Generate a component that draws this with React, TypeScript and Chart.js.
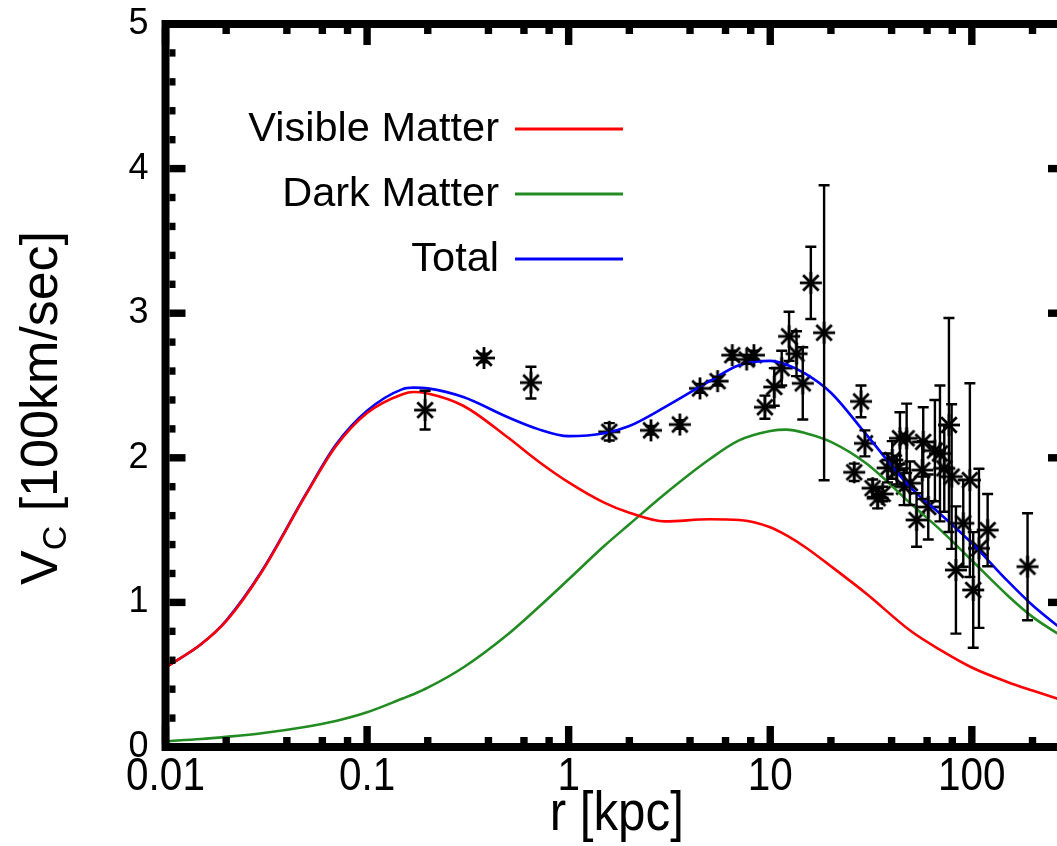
import React, { useEffect, useRef } from "react";
import { Chart, registerables } from "chart.js";

Chart.register(...registerables);

// ---------- data ----------
const curveR = [0.01, 0.015, 0.02, 0.03, 0.05, 0.07, 0.1, 0.15, 0.17, 0.2, 0.3, 0.5, 0.7, 1, 1.5, 2, 3, 5, 7, 10, 12, 15, 20, 30, 50, 70, 100, 150, 200, 300];
const visibleV = [0.55, 0.71, 0.87, 1.21, 1.75, 2.08, 2.31, 2.44, 2.455, 2.445, 2.36, 2.14, 1.98, 1.83, 1.69, 1.62, 1.56, 1.575, 1.57, 1.52, 1.465, 1.38, 1.25, 1.06, 0.8, 0.67, 0.55, 0.45, 0.39, 0.31];
const darkV = [0.04, 0.055, 0.07, 0.095, 0.14, 0.18, 0.24, 0.335, 0.365, 0.41, 0.55, 0.78, 0.96, 1.16, 1.39, 1.54, 1.75, 1.99, 2.12, 2.185, 2.195, 2.17, 2.11, 1.96, 1.68, 1.5, 1.29, 1.05, 0.9, 0.74];
const totalV = [0.55, 0.71, 0.875, 1.215, 1.755, 2.09, 2.325, 2.475, 2.485, 2.48, 2.42, 2.28, 2.2, 2.15, 2.17, 2.22, 2.35, 2.53, 2.64, 2.67, 2.645, 2.58, 2.45, 2.16, 1.79, 1.61, 1.41, 1.15, 0.98, 0.78];

const obsR = [0.194, 0.38, 0.65, 1.59, 2.56, 3.56, 4.48, 5.48, 6.48, 7.64, 8.3, 9.41, 10.47, 11.4, 12.4, 13.5, 14.5, 15.9, 18.5, 26.1, 28.2, 29.5, 32.2, 34.1, 36.1, 38.2, 40.3, 42.4, 44, 46.1, 47.5, 49.3, 53.2, 56.8, 57.4, 60.8, 65.6, 69.5, 73, 77, 79.4, 83.4, 90.7, 97.8, 101.6, 108.5, 119.8, 189];
const obsV = [2.33, 2.69, 2.52, 2.18, 2.19, 2.23, 2.48, 2.53, 2.71, 2.68, 2.71, 2.35, 2.49, 2.62, 2.84, 2.72, 2.515, 3.21, 2.865, 1.9, 2.39, 2.1, 1.79, 1.72, 1.75, 1.93, 1.985, 1.915, 2.135, 1.8, 2.135, 1.824, 1.57, 1.915, 2.11, 1.66, 2.05, 2.03, 1.927, 2.227, 1.87, 1.224, 1.547, 1.846, 1.086, 1.374, 1.5, 1.247];
const obsErr = [0.134, 0.03, 0.11, 0.06, 0.03, 0.03, 0.03, 0.03, 0.03, 0.03, 0.03, 0.08, 0.13, 0.12, 0.17, 0.155, 0.25, 0.25, 1.02, 0.06, 0.11, 0.09, 0.06, 0.07, 0.05, 0.1, 0.13, 0.1, 0.18, 0.127, 0.24, 0.15, 0.185, 0.2, 0.24, 0.225, 0.35, 0.47, 0.3, 0.74, 0.5, 0.44, 0.3, 0.67, 0.4, 0.55, 0.25, 0.37];

const seriesNames = ["Visible Matter", "Dark Matter", "Total"];
const seriesColors = ["#ff0000", "#228b22", "#0000ff"];

const xTickValues = [0.01, 0.1, 1, 10, 100];
const xTickLabels = ["0.01", "0.1", "1", "10", "100"];
const xMinorMultipliers = [2, 4, 6, 8];
const yTickValues = [0, 1, 2, 3, 4, 5];
const xTitle = "r [kpc]";
const yTitleMain = "V";
const yTitleSub = "C";
const yTitleRest = " [100km/sec]";

// ---------- layout ----------
const CW = 1100;
const CH = 846;
const AREA_LEFT = 165.5;
const AREA_RIGHT = 1068;
const AREA_TOP = 24;
const AREA_BOTTOM = 747;
const SANS = "'Liberation Sans', Arial, Helvetica, sans-serif";

function makeAsterisk(): HTMLCanvasElement {
  const s = 28;
  const c = document.createElement("canvas");
  c.width = s;
  c.height = s;
  const g = c.getContext("2d")!;
  g.strokeStyle = "#000";
  g.lineWidth = 2.8;
  const r = 11;
  const m = s / 2;
  const angles = [90, 0, 45, 135];
  for (const a of angles) {
    const rad = (a * Math.PI) / 180;
    g.beginPath();
    g.moveTo(m - r * Math.cos(rad), m - r * Math.sin(rad));
    g.lineTo(m + r * Math.cos(rad), m + r * Math.sin(rad));
    g.stroke();
  }
  return c;
}

function squeezedText(ctx: CanvasRenderingContext2D, text: string, x: number, y: number, k: number) {
  ctx.save();
  ctx.translate(x, y);
  ctx.scale(k, 1);
  ctx.fillText(text, 0, 0);
  ctx.restore();
}

const decorPlugin = {
  id: "decor",
  afterDatasetsDraw(chart: any) {
    const ctx = chart.ctx;
    const xs = chart.scales.x;
    const ys = chart.scales.y;
    ctx.save();
    ctx.strokeStyle = "#000";
    ctx.lineWidth = 2.4;
    const cap = 5.5;
    for (let i = 0; i < obsR.length; i++) {
      const px = xs.getPixelForValue(obsR[i]);
      const p1 = ys.getPixelForValue(obsV[i] + obsErr[i]);
      const p0 = ys.getPixelForValue(obsV[i] - obsErr[i]);
      ctx.beginPath();
      ctx.moveTo(px, p0);
      ctx.lineTo(px, p1);
      ctx.moveTo(px - cap, p0);
      ctx.lineTo(px + cap, p0);
      ctx.moveTo(px - cap, p1);
      ctx.lineTo(px + cap, p1);
      ctx.stroke();
    }
    ctx.restore();
  },
  afterDraw(chart: any) {
    const ctx = chart.ctx;
    const { left, right, top, bottom } = chart.chartArea;
    const xs = chart.scales.x;
    const ys = chart.scales.y;
    ctx.save();
    ctx.strokeStyle = "#000";
    ctx.lineWidth = 8;
    ctx.strokeRect(left, top, right - left, bottom - top);
    ctx.fillStyle = "#000";
    const tw = 7.4;
    const inner = 4;
    const xMajorLen = 17;
    const xMinorLen = 6;
    const drawX = (v: number, len: number) => {
      const px = xs.getPixelForValue(v);
      if (px < left - 1 || px > right + 1) return;
      ctx.fillRect(px - tw / 2, bottom - inner - len, tw, len);
      ctx.fillRect(px - tw / 2, top + inner, tw, len);
    };
    for (const v of xTickValues) {
      drawX(v, xMajorLen);
      for (const m of xMinorMultipliers) drawX(v * m, xMinorLen);
    }
    const yMajorLen = 16;
    const yMinorLen = 6;
    for (let k = 0; k <= 25; k++) {
      const v = k * 0.2;
      const py = ys.getPixelForValue(v);
      const len = k % 5 === 0 ? yMajorLen : yMinorLen;
      ctx.fillRect(left + inner, py - tw / 2, len, tw);
      ctx.fillRect(right - inner - len, py - tw / 2, len, tw);
    }

    // x tick labels (narrow)
    ctx.font = `46px ${SANS}`;
    ctx.textBaseline = "alphabetic";
    const kx = 0.88;
    for (let i = 0; i < xTickValues.length; i++) {
      const px = xs.getPixelForValue(xTickValues[i]);
      const w = ctx.measureText(xTickLabels[i]).width * kx;
      squeezedText(ctx, xTickLabels[i], px - w / 2, 790, kx);
    }
    // x title
    ctx.font = `56px ${SANS}`;
    const wt = ctx.measureText(xTitle).width * kx;
    squeezedText(ctx, xTitle, (left + right) / 2 - wt / 2, 830, kx);

    // y title with subscript
    const fMain = 52;
    const fSub = 34;
    ctx.translate(57, 408);
    ctx.rotate(-Math.PI / 2);
    ctx.font = `${fMain}px ${SANS}`;
    const wV = ctx.measureText(yTitleMain).width;
    const wRest = ctx.measureText(yTitleRest).width;
    ctx.font = `${fSub}px ${SANS}`;
    const wSub = ctx.measureText(yTitleSub).width;
    const total = wV + wSub + wRest;
    let x0 = -total / 2;
    ctx.font = `${fMain}px ${SANS}`;
    ctx.fillText(yTitleMain, x0, 0);
    x0 += wV;
    ctx.font = `${fSub}px ${SANS}`;
    ctx.fillText(yTitleSub, x0, 9);
    x0 += wSub;
    ctx.font = `${fMain}px ${SANS}`;
    ctx.fillText(yTitleRest, x0, 0);
    ctx.restore();

    // legend
    ctx.save();
    ctx.font = `41.5px ${SANS}`;
    ctx.textAlign = "right";
    ctx.textBaseline = "middle";
    const legTextRight = 499;
    const lineX0 = 515;
    const lineX1 = 623;
    const legY0 = 129;
    const legDy = 65;
    for (let i = 0; i < seriesNames.length; i++) {
      const y = legY0 + i * legDy;
      ctx.fillStyle = "#000";
      ctx.fillText(seriesNames[i], legTextRight, y + 1);
      ctx.strokeStyle = seriesColors[i];
      ctx.lineWidth = 3;
      ctx.beginPath();
      ctx.moveTo(lineX0, y);
      ctx.lineTo(lineX1, y);
      ctx.stroke();
    }
    ctx.restore();
  },
};

export default function App() {
  const ref = useRef<HTMLCanvasElement | null>(null);

  useEffect(() => {
    const canvas = ref.current;
    if (!canvas) return;
    const star = makeAsterisk();
    const curves = [visibleV, darkV, totalV].map((vals, i) => ({
      type: "line" as const,
      label: seriesNames[i],
      data: curveR.map((r, j) => ({ x: r, y: vals[j] })),
      borderColor: seriesColors[i],
      backgroundColor: seriesColors[i],
      borderWidth: 2.6,
      pointRadius: 0,
      cubicInterpolationMode: "monotone" as const,
      fill: false,
      clip: 4,
    }));
    const chart = new Chart(canvas, {
      type: "line",
      data: {
        datasets: [
          ...curves,
          {
            type: "scatter" as const,
            label: "Data",
            data: obsR.map((r, j) => ({ x: r, y: obsV[j] })),
            pointStyle: star as any,
            pointRadius: 11,
            showLine: false,
            borderColor: "#000",
            backgroundColor: "#000",
          } as any,
        ],
      },
      options: {
        responsive: false,
        animation: false,
        devicePixelRatio: 1,
        layout: { padding: { top: AREA_TOP, right: CW - AREA_RIGHT, left: 0, bottom: 0 } },
        plugins: { legend: { display: false }, tooltip: { enabled: false }, title: { display: false } },
        scales: {
          x: {
            type: "logarithmic",
            min: 0.01,
            max: 300,
            grid: { display: false, drawTicks: false },
            border: { display: false },
            afterBuildTicks: (s: any) => {
              s.ticks = xTickValues.map((v) => ({ value: v }));
            },
            afterFit: (s: any) => {
              s.height = CH - AREA_BOTTOM;
              s.paddingLeft = 0;
              s.paddingRight = 0;
            },
            ticks: { display: false, autoSkip: false, maxRotation: 0 },
          },
          y: {
            type: "linear",
            min: 0,
            max: 5,
            grid: { display: false, drawTicks: false },
            border: { display: false },
            afterBuildTicks: (s: any) => {
              s.ticks = yTickValues.map((v) => ({ value: v }));
            },
            afterFit: (s: any) => {
              s.width = AREA_LEFT;
              s.paddingTop = 0;
              s.paddingBottom = 0;
            },
            ticks: {
              padding: 17,
              color: "#000",
              font: { family: SANS, size: 36 },
              callback: (v: any) => String(v),
            },
          },
        },
      } as any,
      plugins: [decorPlugin],
    });
    return () => chart.destroy();
  }, []);

  return (
    <div style={{ position: "fixed", left: 0, top: 0, width: 1057, height: 846, overflow: "hidden", background: "#fff" }}>
      <canvas ref={ref} width={CW} height={CH} style={{ width: CW, height: CH, display: "block" }} />
    </div>
  );
}
